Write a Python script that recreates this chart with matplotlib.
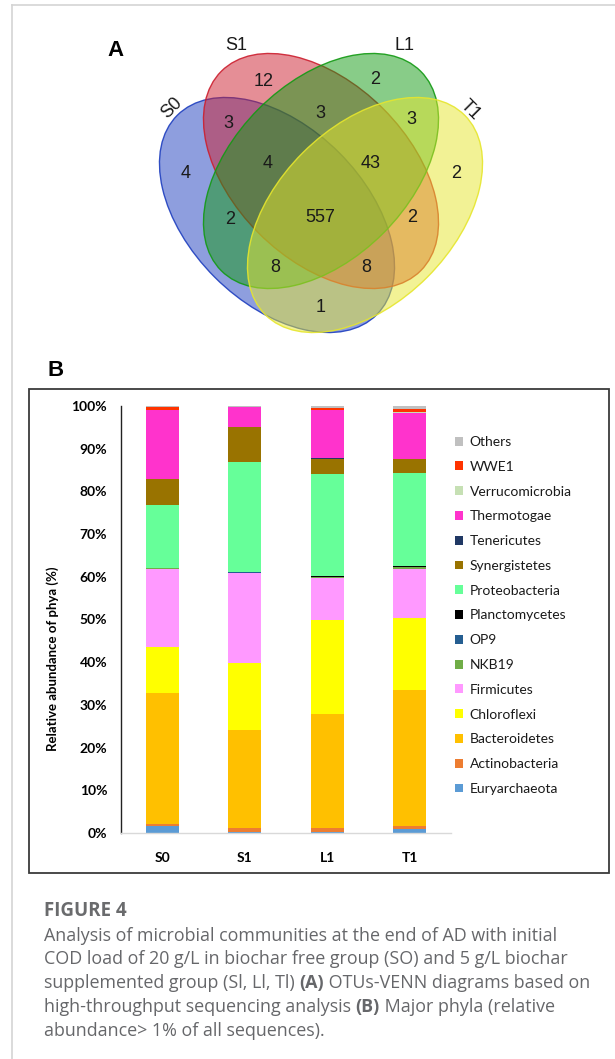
import numpy as np
import matplotlib
matplotlib.use("Agg")
import matplotlib.pyplot as plt
from matplotlib.patches import Ellipse, Rectangle, Patch
from matplotlib.lines import Line2D
from matplotlib.transforms import blended_transform_factory

# ---------------------------------------------------------------------------
# data
# ---------------------------------------------------------------------------
groups = ["S0", "S1", "L1", "T1"]

# OTU counts per Venn region
venn_counts = {
    "S0": 4, "S1": 12, "L1": 2, "T1": 2,
    "S0S1": 3, "S1L1": 3, "L1T1": 3, "S0L1": 2, "S1T1": 2, "S0T1": 1,
    "S0S1L1": 4, "S1L1T1": 43, "S0L1T1": 8, "S0S1T1": 8,
    "S0S1L1T1": 557,
}

phyla = ["Euryarchaeota", "Actinobacteria", "Bacteroidetes", "Chloroflexi",
         "Firmicutes", "NKB19", "OP9", "Planctomycetes", "Proteobacteria",
         "Synergistetes", "Tenericutes", "Thermotogae", "Verrucomicrobia",
         "WWE1", "Others"]
phyla_colors = ["#5b9bd5", "#ed7d31", "#ffc000", "#ffff00", "#ff99ff",
                "#70ad47", "#255e91", "#000000", "#66ff99", "#997300",
                "#203864", "#ff33cc", "#c6e0b4", "#ff3300", "#c0c0c0"]

# relative abundance (%) for S0, S1, L1, T1
euryarchaeota   = [1.7, 0.3, 0.3, 0.9]
actinobacteria  = [0.5, 0.95, 0.95, 0.8]
bacteroidetes   = [30.6, 22.9, 26.6, 31.9]
chloroflexi     = [10.7, 15.7, 22.0, 16.8]
firmicutes      = [18.4, 21.1, 9.9, 11.5]
nkb19           = [0.1, 0.05, 0.15, 0.3]
op9             = [0.05, 0.1, 0.15, 0.05]
planctomycetes  = [0.05, 0.1, 0.05, 0.3]
proteobacteria  = [14.8, 25.6, 24.0, 21.8]
synergistetes   = [5.9, 8.2, 3.4, 3.2]
tenericutes     = [0.05, 0.05, 0.35, 0.05]
thermotogae     = [16.2, 4.7, 11.1, 10.8]
verrucomicrobia = [0.1, 0.05, 0.1, 0.3]
wwe1            = [0.6, 0.05, 0.5, 0.7]
others          = [0.25, 0.15, 0.45, 0.6]

abundance = [euryarchaeota, actinobacteria, bacteroidetes, chloroflexi,
             firmicutes, nkb19, op9, planctomycetes, proteobacteria,
             synergistetes, tenericutes, thermotogae, verrucomicrobia,
             wwe1, others]

# ---------------------------------------------------------------------------
# figure (pixel based layout)
# ---------------------------------------------------------------------------
W, H = 615, 1059
fig = plt.figure(figsize=(W / 100, H / 100), dpi=100)


def fx(x):
    return x / W


def fy(y):
    return 1 - y / H


# page frame lines
fig.add_artist(Line2D([fx(12), fx(12)], [fy(5), 0], color="#d4d4d4", lw=1.2))
fig.add_artist(Line2D([fx(12), 1], [fy(5), fy(5)], color="#d4d4d4", lw=1.2))

# ---------------------------------------------------------------------------
# panel A: four-set Venn diagram
# ---------------------------------------------------------------------------
ax_v = fig.add_axes([0, fy(350), 1, 350 / H])
ax_v.set_xlim(0, W)
ax_v.set_ylim(350, 0)
ax_v.axis("off")

ell_w, ell_h = 282, 176
ell_specs = [
    ("S0", (277, 215), 45, "#1f3fbf"),
    ("S1", (321, 171), 45, "#cc1f2f"),
    ("L1", (321, 171), -45, "#139a13"),
    ("T1", (365, 215), -45, "#e6e62d"),
]
for name, c, ang, col in ell_specs:
    ax_v.add_patch(Ellipse(c, ell_w, ell_h, angle=ang, facecolor=col,
                           alpha=0.5, edgecolor="none"))
    ax_v.add_patch(Ellipse(c, ell_w, ell_h, angle=ang, facecolor="none",
                           edgecolor=col, lw=1.0, alpha=0.9))

region_pos = {
    "S0": (186, 174), "S1": (264, 81), "L1": (375, 80), "T1": (456, 173),
    "S0S1": (228, 124), "S1L1": (320, 114), "L1T1": (411, 120),
    "S0L1": (230, 219), "S1T1": (412, 217), "S0T1": (321, 307),
    "S0S1L1": (268, 163), "S1L1T1": (371, 163), "S0L1T1": (275, 267),
    "S0S1T1": (366, 267), "S0S1L1T1": (320, 218),
}
for key, (x, y) in region_pos.items():
    ax_v.text(x, y, str(venn_counts[key]), ha="center", va="center",
              fontsize=13, family="Liberation Sans", color="#1a1a1a")

set_labels = {"S0": (172, 108, 45), "S1": (236, 46, 0),
              "L1": (405, 46, 0), "T1": (470, 110, -45)}
for name, (x, y, rot) in set_labels.items():
    ax_v.text(x, y, name, ha="center", va="center", rotation=rot,
              fontsize=13, family="Liberation Sans", color="#1a1a1a")

fig.text(fx(115), fy(51), "A", ha="center", va="center", fontsize=16,
         fontweight="bold", family="Liberation Sans")
fig.text(fx(56), fy(371), "B", ha="center", va="center", fontsize=16,
         fontweight="bold", family="Liberation Sans")

# ---------------------------------------------------------------------------
# panel B: stacked bars of phyla
# ---------------------------------------------------------------------------
fig.add_artist(Rectangle((fx(29), fy(873)), fx(609) - fx(29),
                         fy(389) - fy(873), fill=False,
                         edgecolor="#3a3a3a", lw=1.3))

ax = fig.add_axes([fx(121), fy(833), fx(451) - fx(121), fy(406) - fy(833)])
x = np.arange(len(groups))
bottom = np.zeros(len(groups))
for name, vals, col in zip(phyla, abundance, phyla_colors):
    ax.bar(x, vals, width=0.4, bottom=bottom, color=col, label=name,
           linewidth=0)
    bottom += np.array(vals)

ax.set_xlim(-0.5, 3.5)
ax.set_ylim(0, 100)
ax.set_yticks(np.arange(0, 101, 10))
ax.set_yticklabels([f"{v}%" for v in range(0, 101, 10)])
ax.set_xticks(x)
ax.set_xticklabels(groups)
for lab in ax.get_yticklabels() + ax.get_xticklabels():
    lab.set_family("Lato")
    lab.set_fontweight("bold")
    lab.set_fontsize(10)
ax.tick_params(axis="y", length=0, pad=10)
ax.tick_params(axis="x", length=0, pad=14)
for s in ["top", "right"]:
    ax.spines[s].set_visible(False)
ax.spines["left"].set_color("#222222")
ax.spines["left"].set_linewidth(1.0)
ax.spines["bottom"].set_color("#d9d9d9")
ax.spines["bottom"].set_linewidth(1.0)

# y label sits a bit below the middle of the axis
ax.set_ylabel("Relative abundance of phya (%)", family="Lato",
              fontweight="bold", fontsize=9.5)
ax.yaxis.set_label_coords(fx(59), (833 - 659) / 427,
                          transform=blended_transform_factory(fig.transFigure,
                                                              ax.transAxes))

handles = [Patch(facecolor=c, edgecolor="none") for c in phyla_colors][::-1]
fig.legend(handles, phyla[::-1], loc="upper left",
           bbox_to_anchor=(fx(455), fy(436)), frameon=False,
           prop={"family": "Lato", "size": 10}, handlelength=0.6,
           handleheight=0.6, handletextpad=0.45, labelspacing=0.92,
           borderaxespad=0, borderpad=0, labelcolor="#1a1a1a")

# ---------------------------------------------------------------------------
# caption
# ---------------------------------------------------------------------------
cap_color = "#66676a"
cap_font = "Open Sans"
fig.text(fx(44), fy(911), "FIGURE 4", ha="left", va="center",
         fontsize=13.5, fontweight="bold", family=cap_font, color="#6a6b6d")

caption_lines = [
    [("Analysis of microbial communities at the end of AD with initial", "normal")],
    [("COD load of 20 g/L in biochar free group (SO) and 5 g/L biochar", "normal")],
    [("supplemented group (Sl, Ll, Tl) ", "normal"), ("(A)", "bold"),
     (" OTUs-VENN diagrams based on", "normal")],
    [("high-throughput sequencing analysis ", "normal"), ("(B)", "bold"),
     (" Major phyla (relative", "normal")],
    [("abundance> 1% of all sequences).", "normal")],
]
line_y = [936, 959.5, 983, 1007, 1031]
renderer = fig.canvas.get_renderer()
for segs, yy in zip(caption_lines, line_y):
    xpos = 44
    for txt, wt in segs:
        t = fig.text(fx(xpos), fy(yy), txt, ha="left", va="center",
                     fontsize=12.9, fontweight=wt, family=cap_font,
                     color=cap_color)
        xpos += t.get_window_extent(renderer).width

fig.savefig("out.png", dpi=100)
